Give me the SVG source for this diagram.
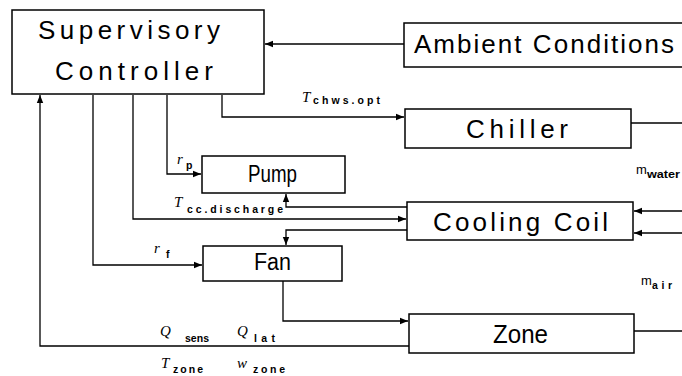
<svg xmlns="http://www.w3.org/2000/svg" width="682" height="376" viewBox="0 0 682 376">
<defs>
<style>
.box{fill:#fff;stroke:#000;stroke-width:1.5}
.ln{fill:none;stroke:#000;stroke-width:1.3}
.big{font-family:"Liberation Sans",Arial,sans-serif;font-size:26px;fill:#000}
.mid{font-family:"Liberation Sans",Arial,sans-serif;font-size:23px;fill:#000}
.v{font-family:"Liberation Serif","Times New Roman",serif;font-style:italic;font-size:15px;fill:#000}
.s{font-family:"Liberation Sans",Arial,sans-serif;font-weight:bold;font-size:10.5px;fill:#000}
.m{font-family:"Liberation Sans",Arial,sans-serif;font-size:13px;fill:#000}
</style>
<marker id="ah" viewBox="0 0 8 8" refX="8" refY="4" markerWidth="8" markerHeight="8" markerUnits="userSpaceOnUse" orient="auto">
<path d="M0,0.8 L8,4 L0,7.2 z" fill="#000"/>
</marker>
</defs>
<rect width="682" height="376" fill="#fff"/>
<g id="connectors">
<path class="ln" d="M404,44 H265" marker-end="url(#ah)"/>
<path class="ln" d="M222,95 V117 H404" marker-end="url(#ah)"/>
<path class="ln" d="M167,95 V174 H201" marker-end="url(#ah)"/>
<path class="ln" d="M133,95 V219 H406" marker-end="url(#ah)"/>
<path class="ln" d="M407,207 H286 V194" marker-end="url(#ah)"/>
<path class="ln" d="M407,230 H286 V245" marker-end="url(#ah)"/>
<path class="ln" d="M93,95 V265 H202" marker-end="url(#ah)"/>
<path class="ln" d="M283,281 V321 H408" marker-end="url(#ah)"/>
<path class="ln" d="M409,346 H40 V95" marker-end="url(#ah)"/>
<path class="ln" d="M631,123 H682"/>
<path class="ln" d="M682,211 H634" marker-end="url(#ah)"/>
<path class="ln" d="M682,233 H634" marker-end="url(#ah)"/>
<path class="ln" d="M634,331 H682"/>
</g>
<g id="controller">
<rect class="box" x="12" y="10" width="252" height="84"/>
<text class="big" x="38" y="39" textLength="182" lengthAdjust="spacing">Supervisory</text>
<text class="big" x="55" y="80" textLength="158" lengthAdjust="spacing">Controller</text>
</g>
<g id="ambient">
<rect class="box" x="404" y="23" width="290" height="44"/>
<text class="big" x="414" y="53" textLength="260" lengthAdjust="spacing">Ambient Conditions</text>
</g>
<g id="chiller">
<rect class="box" x="405" y="109" width="226" height="39"/>
<text class="big" x="466" y="138" textLength="102" lengthAdjust="spacing">Chiller</text>
</g>
<g id="pump">
<rect class="box" x="202" y="156" width="143" height="37"/>
<text class="mid" x="248" y="182" textLength="49" lengthAdjust="spacingAndGlyphs">Pump</text>
</g>
<g id="coolingcoil">
<rect class="box" x="407" y="202" width="226" height="38"/>
<text class="big" x="433" y="231" textLength="175" lengthAdjust="spacing">Cooling Coil</text>
</g>
<g id="fan">
<rect class="box" x="203" y="246" width="139" height="35"/>
<text class="mid" x="254" y="270" textLength="37" lengthAdjust="spacingAndGlyphs">Fan</text>
</g>
<g id="zone">
<rect class="box" x="409" y="314" width="225" height="39"/>
<text class="big" x="493" y="343" textLength="55" lengthAdjust="spacingAndGlyphs">Zone</text>
</g>
<g id="labels">
<text class="v" x="302" y="102">T</text><text class="s" x="313" y="104" textLength="67" lengthAdjust="spacing">chws.opt</text>
<text class="v" x="177" y="164">r</text><text class="s" x="186" y="169">p</text>
<text class="v" x="174" y="207">T</text><text class="s" x="187" y="213" textLength="96" lengthAdjust="spacing">cc.discharge</text>
<text class="v" x="154" y="253">r</text><text class="s" x="166" y="258">f</text>
<text class="v" x="160" y="336">Q</text><text class="s" x="185" y="342" textLength="24" lengthAdjust="spacing">sens</text>
<text class="v" x="237" y="336">Q</text><text class="s" x="254" y="342" textLength="21" lengthAdjust="spacing">lat</text>
<text class="v" x="161" y="368">T</text><text class="s" x="173" y="373" textLength="30" lengthAdjust="spacing">zone</text>
<text class="v" x="237" y="368">w</text><text class="s" x="253" y="373" textLength="32" lengthAdjust="spacing">zone</text>
<text class="m" x="636" y="174">m</text><text class="s" x="647" y="178" textLength="33" lengthAdjust="spacingAndGlyphs">water</text>
<text class="m" x="641" y="285">m</text><text class="s" x="652" y="289" textLength="20" lengthAdjust="spacing">air</text>
</g>
</svg>
